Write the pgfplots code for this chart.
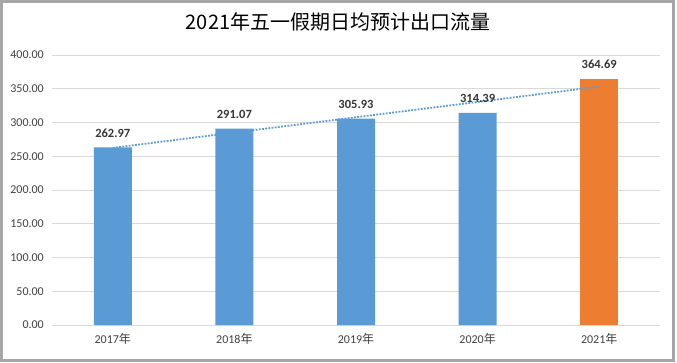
\documentclass[border=0pt]{standalone}
\usepackage{fontspec}
\setmainfont{Carlito}
\newfontfamily\cjk{Noto Sans CJK SC}
\usepackage{pgfplots}
\pgfplotsset{compat=1.18}
\definecolor{barblue}{HTML}{5B9BD5}
\definecolor{barorange}{HTML}{ED7D31}
\definecolor{gridc}{HTML}{D9D9D9}
\definecolor{txt}{HTML}{404040}
\definecolor{txtdark}{HTML}{363636}
\definecolor{framec}{HTML}{A6A6A6}
\begin{document}
\begin{tikzpicture}[x=1pt,y=1pt]
\useasboundingbox (0,0) rectangle (677,362);
\fill[white] (0,0) rectangle (677,362);
\draw[framec, line width=3pt] (1.5,1.5) rectangle (673.5,360.5);
\node[font=\cjk\fontsize{20}{24}\selectfont, text=black] at (338,340) {2021年五一假期日均预计出口流量};
\begin{axis}[
  at={(52pt,37pt)}, anchor=south west,
  scale only axis, width=608pt, height=270pt,
  xmin=-0.5, xmax=4.5, ymin=0, ymax=400,
  ytick={0,50,...,400},
  xtick={0,1,2,3,4},
  xticklabels={2017{\cjk 年},2018{\cjk 年},2019{\cjk 年},2020{\cjk 年},2021{\cjk 年}},
  ymajorgrids, grid style={gridc, line width=0.8pt},
  axis line style={draw=none},
  major tick length=0pt,
  tick label style={font=\fontsize{12}{14}\selectfont, text=txt},
  yticklabel style={inner sep=0pt, xshift=-8pt, /pgf/number format/.cd, fixed, fixed zerofill, precision=2, assume math mode=true},
  xticklabel style={inner sep=0pt, yshift=-8pt},
  clip=false,
]
\addplot[ybar, bar width=38pt, fill=barblue, draw=none,
  nodes near coords={\pgfmathprintnumber[fixed,fixed zerofill,precision=2,assume math mode=true]{\pgfplotspointmeta}},
  every node near coord/.style={font=\bfseries\fontsize{12.5}{14}\selectfont, text=txtdark, anchor=south, inner sep=0pt, yshift=10pt}]
  coordinates {(0,262.97) (1,291.07) (2,305.93) (3,314.39)};
\addplot[ybar, bar width=38pt, fill=barorange, draw=none,
  nodes near coords={\pgfmathprintnumber[fixed,fixed zerofill,precision=2,assume math mode=true]{\pgfplotspointmeta}},
  every node near coord/.style={font=\bfseries\fontsize{12.5}{14}\selectfont, text=txtdark, anchor=south, inner sep=0pt, yshift=10pt}]
  coordinates {(4,364.69)};
\addplot[barblue, line width=1.8pt, dash pattern=on 1.8pt off 1.4pt] coordinates {(0,262.46) (4,353.16)};
\end{axis}
\end{tikzpicture}
\end{document}
